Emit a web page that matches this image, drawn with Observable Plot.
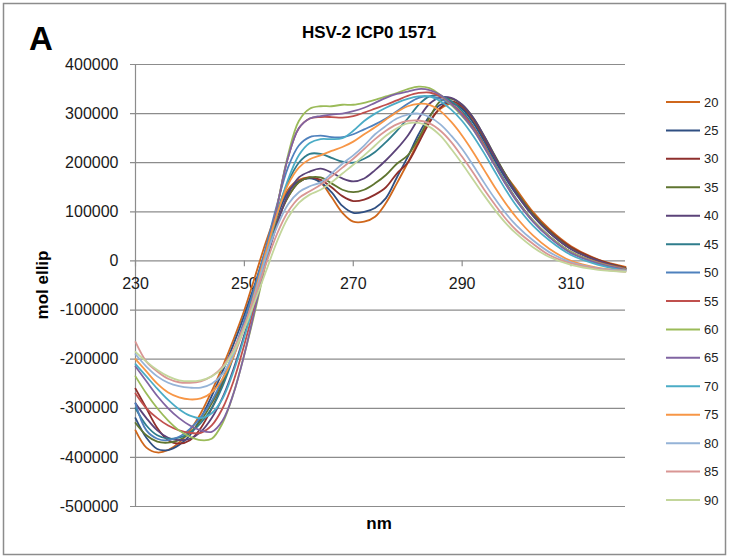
<!DOCTYPE html>
<html>
<head>
<meta charset="utf-8">
<script src="https://cdn.jsdelivr.net/npm/d3@7"></script>
<script src="https://cdn.jsdelivr.net/npm/@observablehq/plot@0.6"></script>
<style>
  body { margin: 0; background: #fff; }
  #wrap { position: relative; width: 730px; height: 559px; overflow: hidden; background: #fff; }
  #wrap svg { position: absolute; left: 0; top: 0; }
</style>
</head>
<body>
<div id="wrap"></div>
<script>
// ---- Data ----
const title = "HSV-2 ICP0 1571";
const panelLetter = "A";
const xLabel = "nm";
const yLabel = "mol ellip";
const xTicks = [230, 250, 270, 290, 310];
const yTicks = [400000, 300000, 200000, 100000, 0, -100000, -200000, -300000, -400000, -500000];
const temps = ["20", "25", "30", "35", "40", "45", "50", "55", "60", "65", "70", "75", "80", "85", "90"];
const colors = ["#cf671c", "#2f4f82", "#8e2f2c", "#5f7530", "#5b4379", "#2f7d8c", "#4f81bd", "#c0504d",
                "#9bbb59", "#8064a2", "#4bacc6", "#f79646", "#95b3d7", "#d99694", "#c3d69b"];

const wavelength = [230,232,234,236,238,240,242,244,246,248,250,252,254,256,258,260,262,264,266,268,270,
                    272,274,276,278,280,282,284,286,288,290,292,294,296,298,300,303,306,310,315,320];

const s20 = [-345000,-380000,-390000,-385000,-370000,-345000,-310000,-265000,-215000,-160000,-100000,
             -30000,40000,100000,145000,165000,170000,160000,130000,98000,80000,
             80000,90000,118000,158000,200000,245000,285000,310000,320000,312000,
             285000,250000,212000,175000,145000,100000,65000,30000,3000,-12000];
const s25 = [-320000,-360000,-383000,-385000,-375000,-355000,-320000,-275000,-225000,-170000,-110000,
             -45000,25000,90000,140000,162000,168000,160000,140000,112000,98000,
             100000,108000,128000,170000,212000,258000,295000,318000,322000,310000,
             282000,245000,205000,168000,135000,92000,58000,25000,0,-15000];
const s30 = [-260000,-300000,-340000,-365000,-372000,-365000,-340000,-300000,-250000,-190000,-125000,
             -55000,15000,80000,130000,160000,170000,165000,150000,132000,122000,
             125000,135000,150000,178000,200000,240000,282000,312000,325000,315000,
             290000,252000,212000,175000,140000,96000,62000,28000,2000,-14000];
const s35 = [-330000,-355000,-368000,-370000,-365000,-350000,-325000,-290000,-245000,-190000,-125000,
             -55000,15000,80000,130000,160000,170000,170000,158000,145000,140000,
             145000,158000,175000,198000,215000,250000,292000,325000,330000,318000,
             292000,255000,215000,175000,140000,95000,60000,25000,0,-15000];
const s40 = [-290000,-320000,-345000,-360000,-365000,-362000,-348000,-320000,-278000,-220000,-150000,
             -75000,0,75000,135000,170000,182000,188000,180000,168000,162000,
             168000,185000,205000,228000,255000,290000,320000,333000,332000,318000,
             292000,255000,213000,172000,137000,92000,58000,24000,0,-16000];
const s45 = [-300000,-335000,-355000,-362000,-360000,-350000,-330000,-300000,-255000,-195000,-125000,
             -50000,25000,100000,160000,200000,218000,218000,210000,202000,200000,
             208000,222000,242000,265000,290000,318000,335000,336000,325000,305000,
             275000,238000,198000,160000,125000,82000,50000,18000,-5000,-18000];
const s50 = [-290000,-345000,-362000,-365000,-358000,-342000,-318000,-285000,-240000,-185000,-120000,
             -50000,30000,115000,190000,235000,252000,255000,252000,252000,258000,
             268000,278000,290000,305000,320000,332000,335000,330000,318000,300000,
             272000,236000,196000,158000,124000,82000,50000,18000,-4000,-16000];
const s55 = [-270000,-300000,-320000,-335000,-345000,-350000,-350000,-335000,-300000,-245000,-170000,
             -85000,10000,110000,210000,270000,290000,293000,293000,292000,295000,
             302000,310000,318000,327000,336000,342000,343000,335000,320000,300000,
             272000,236000,196000,158000,124000,82000,50000,18000,-3000,-16000];
const s60 = [-235000,-270000,-300000,-325000,-345000,-358000,-365000,-362000,-330000,-270000,-190000,
             -100000,0,110000,215000,285000,310000,315000,315000,318000,318000,
             322000,328000,335000,342000,350000,355000,352000,338000,318000,295000,
             268000,233000,195000,157000,123000,82000,50000,18000,-4000,-17000];
const s65 = [-215000,-245000,-275000,-300000,-320000,-335000,-345000,-348000,-325000,-270000,-190000,
             -95000,5000,110000,210000,270000,290000,295000,298000,300000,305000,
             312000,322000,332000,340000,345000,350000,348000,338000,320000,297000,
             268000,232000,194000,156000,122000,80000,48000,16000,-5000,-18000];
const s70 = [-210000,-235000,-260000,-283000,-302000,-315000,-320000,-310000,-280000,-225000,-155000,
             -75000,10000,95000,165000,215000,240000,248000,248000,250000,265000,
             285000,300000,312000,322000,330000,335000,335000,325000,308000,285000,
             255000,220000,182000,145000,112000,72000,42000,12000,-8000,-20000];
const s75 = [-200000,-225000,-250000,-268000,-278000,-282000,-280000,-268000,-240000,-195000,-135000,
             -60000,20000,95000,155000,190000,207000,215000,224000,232000,243000,
             258000,272000,288000,303000,315000,320000,318000,305000,283000,255000,
             222000,186000,150000,117000,88000,52000,25000,0,-14000,-20000];
const s80 = [-190000,-215000,-235000,-248000,-255000,-258000,-258000,-250000,-230000,-190000,-135000,
             -65000,10000,70000,115000,140000,152000,160000,178000,198000,215000,
             235000,258000,275000,290000,298000,300000,293000,278000,255000,228000,
             195000,160000,127000,97000,72000,42000,18000,-3000,-15000,-20000];
const s85 = [-165000,-205000,-225000,-240000,-247000,-248000,-245000,-235000,-215000,-180000,-130000,
             -70000,-5000,55000,100000,128000,142000,155000,172000,190000,208000,
             228000,248000,265000,278000,285000,286000,280000,265000,242000,212000,
             180000,146000,115000,86000,62000,35000,12000,-5000,-16000,-22000];
const s90 = [-185000,-205000,-222000,-235000,-243000,-245000,-243000,-235000,-218000,-185000,-138000,
             -80000,-20000,40000,88000,118000,135000,145000,160000,178000,196000,
             215000,235000,255000,270000,280000,281000,273000,255000,228000,198000,
             166000,134000,104000,77000,55000,28000,8000,-8000,-18000,-22000];

const seriesList = [s20, s25, s30, s35, s40, s45, s50, s55, s60, s65, s70, s75, s80, s85, s90];

// ---- Build long table ----
const rows = [];
seriesList.forEach((s, k) => {
  s.forEach((v, i) => rows.push({t: temps[k], nm: wavelength[i], v}));
});

const font = "'Liberation Sans', Arial, sans-serif";
const gridColor = "#8c8c8c";

const chart = Plot.plot({
  width: 640,
  height: 530,
  marginLeft: 135,
  marginRight: 15,
  marginTop: 64,
  marginBottom: 24,
  style: {fontFamily: font, background: "transparent", overflow: "visible"},
  x: {domain: [230, 320], axis: null},
  y: {domain: [-500000, 400000], axis: null},
  color: {domain: temps, range: colors},
  marks: [
    Plot.ruleY(yTicks, {y: d => d, x1: () => 229.08, x2: () => 320, stroke: gridColor, strokeWidth: 1.2}),
    Plot.ruleX([230], {x: d => d, y1: () => -500000, y2: () => 400000, stroke: gridColor, strokeWidth: 1.2}),
    Plot.ruleX(xTicks, {x: d => d, y1: () => 0, y2: () => -12000, stroke: gridColor, strokeWidth: 1.2}),
    Plot.text(yTicks, {x: () => 230, y: d => d, text: d => String(d), textAnchor: "end", dx: -17, fontSize: 16, fill: "#1a1a1a"}),
    Plot.text(xTicks, {x: d => d, y: () => 0, text: d => String(d), textAnchor: "middle", lineAnchor: "middle", dy: 23, fontSize: 16, fill: "#1a1a1a"}),
    Plot.line(rows, {x: "nm", y: "v", z: "t", stroke: "t", strokeWidth: 1.8, curve: "catmull-rom"})
  ]
});

const wrap = document.getElementById("wrap");
wrap.appendChild(chart);

// ---- Overlay: border, title, axis titles, legend ----
const ov = d3.select(wrap).append("svg")
  .attr("width", 730).attr("height", 559)
  .style("font-family", font);

ov.append("rect").attr("x", 3.5).attr("y", 3.5).attr("width", 722).attr("height", 551)
  .attr("fill", "none").attr("stroke", "#8c8c8c").attr("stroke-width", 1.5);

ov.append("text").attr("x", 29).attr("y", 50).attr("font-size", 33).attr("font-weight", "bold")
  .attr("fill", "#000").text(panelLetter);

ov.append("text").attr("x", 369).attr("y", 38).attr("text-anchor", "middle").attr("font-size", 17)
  .attr("font-weight", "bold").attr("fill", "#000").text(title);

ov.append("text").attr("x", 379).attr("y", 529).attr("text-anchor", "middle").attr("font-size", 17)
  .attr("font-weight", "bold").attr("fill", "#000").text(xLabel);

ov.append("text").attr("transform", "translate(48,285) rotate(-90)").attr("text-anchor", "middle")
  .attr("font-size", 17).attr("font-weight", "bold").attr("fill", "#000").text(yLabel);

const leg = ov.append("g");
temps.forEach((t, i) => {
  const y = 102 + i * 28.43;
  leg.append("line").attr("x1", 666).attr("x2", 700).attr("y1", y).attr("y2", y)
    .attr("stroke", colors[i]).attr("stroke-width", 2);
  leg.append("text").attr("x", 704).attr("y", y + 4.5).attr("font-size", 13).attr("fill", "#222").text(t);
});
</script>
</body>
</html>
